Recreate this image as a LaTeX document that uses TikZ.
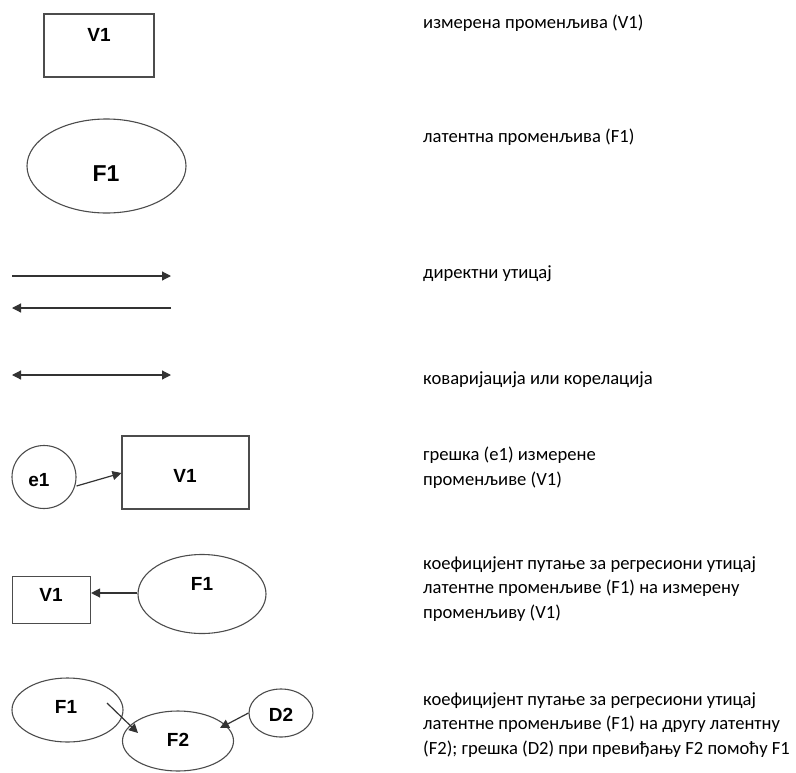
\documentclass[tikz,border=0pt]{standalone}
\usepackage{fontspec}
\setmainfont{Carlito}
\newfontfamily\arialbold[BoldFont={Liberation Sans Bold}]{Liberation Sans}
\usetikzlibrary{shapes.geometric,arrows.meta}
\begin{document}
\begin{tikzpicture}[x=1pt,y=-1pt,
  shapeline/.style={draw=black!70,line width=1.1pt},
  varbox/.style={shapeline,rectangle,inner sep=0pt},
  varell/.style={shapeline,ellipse,inner sep=0pt},
  lab/.style={font=\arialbold\bfseries\fontsize{19}{22}\selectfont,inner sep=0pt},
  biglab/.style={font=\arialbold\bfseries\fontsize{23}{26}\selectfont,inner sep=0pt},
  conn/.style={draw=black!80,line width=1.2pt,-{Triangle[length=9pt,width=9pt]}},
  biconn/.style={draw=black!80,line width=1.2pt,{Triangle[length=9pt,width=9pt]}-{Triangle[length=9pt,width=9pt]}},
  desc/.style={anchor=base west,align=left,inner sep=0pt,font=\fontsize{18.6}{24.5}\selectfont}]
\useasboundingbox (0,0) rectangle (796,772);

% measured variable
\node[varbox,minimum width=110pt,minimum height=63pt] (v1a) at (99,45.5) {};
\node[lab] (v1atxt) at (99,35) {V1};
\node[desc] (d1) at (423,28) {измерена променљива (V1)};

% latent variable
\node[varell,minimum width=159pt,minimum height=94pt] (f1a) at (106.5,166) {};
\node[biglab] (f1atxt) at (106,173.5) {F1};
\node[desc] (d2) at (423,142) {латентна променљива (F1)};

% direct effect
\coordinate (r1) at (12,276);
\coordinate (r2) at (171,276);
\coordinate (l1) at (171,308);
\coordinate (l2) at (12,308);
\draw[conn] (r1) -- (r2);
\draw[conn] (l1) -- (l2);
\node[desc] (d3) at (423,278) {директни утицај};

% covariation
\coordinate (c1) at (12,375);
\coordinate (c2) at (171,375);
\draw[biconn] (c1) -- (c2);
\node[desc] (d4) at (423,384) {коваријација или корелација};

% error of a measured variable
\node[varell,minimum width=64pt,minimum height=63pt] (e1) at (44,477) {};
\node[lab] (e1txt) at (39,480) {e1};
\node[varbox,minimum width=127pt,minimum height=73pt] (v1b) at (185.5,472.5) {};
\node[lab] (v1btxt) at (185,476) {V1};
\draw[conn] (e1.east |- 0,486) -- (v1b.west |- 0,473);
\node[desc] (d5) at (423,485) {грешка (е1) измерене\\променљиве (V1)};

% path coefficient latent -> measured
\node[varbox,minimum width=78pt,minimum height=47pt] (v1c) at (51.5,600) {};
\node[lab] (v1ctxt) at (51,595) {V1};
\node[varell,minimum width=128pt,minimum height=79pt] (f1c) at (202,594) {};
\node[lab] (f1ctxt) at (202,584) {F1};
\draw[conn] (f1c.west |- 0,593) -- (v1c.east |- 0,593);
\node[desc] (d6) at (423,618) {коефицијент путање за регресиони утицај\\латентне променљиве (F1) на измерену\\променљиву (V1)};

% path coefficient latent -> latent, with disturbance
\node[varell,minimum width=111pt,minimum height=64pt] (f1d) at (67.5,710) {};
\node[lab] (f1dtxt) at (66,706.5) {F1};
\node[varell,minimum width=111pt,minimum height=60pt] (f2) at (178,741) {};
\node[lab] (f2txt) at (178,740) {F2};
\node[varell,minimum width=64pt,minimum height=48pt] (d2) at (281,713) {};
\node[lab] (d2txt) at (281,715) {D2};
\coordinate (f1out) at (107,703);
\coordinate (f2in) at (138,733);
\coordinate (d2in) at (220,728);
\draw[conn] (f1out) -- (f2in);
\draw[conn] (d2.west) -- (d2in);
\node[desc] (d7) at (423,754) {коефицијент путање за регресиони утицај\\латентне променљиве (F1) на другу латентну\\(F2); грешка (D2) при превиђању F2 помоћу F1};
\end{tikzpicture}
\end{document}
